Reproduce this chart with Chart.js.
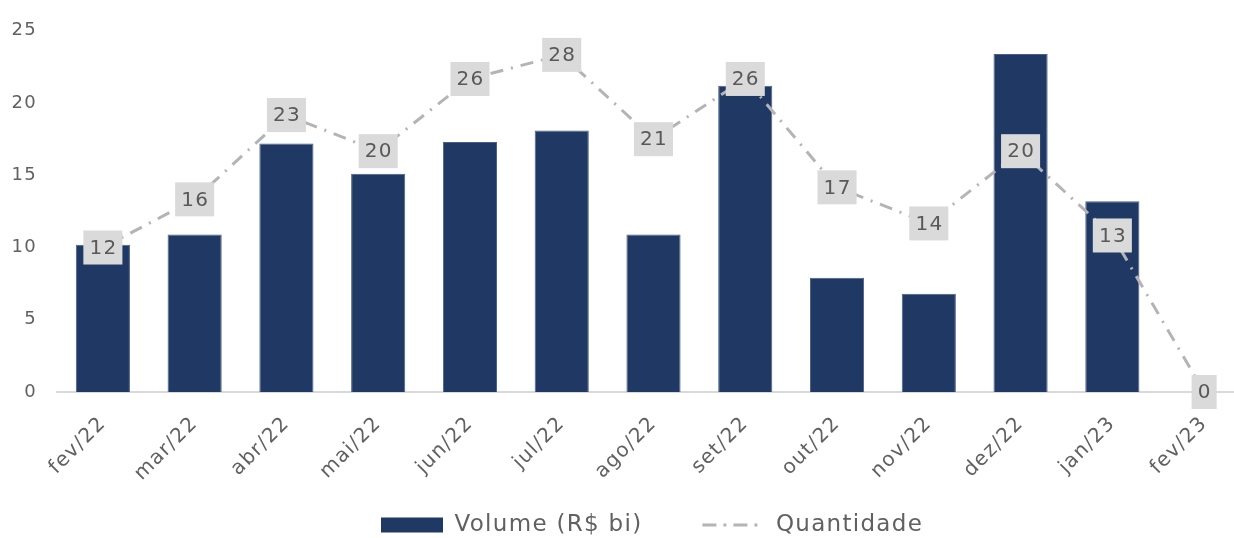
<!DOCTYPE html>
<html>
<head>
<meta charset="utf-8">
<script src="https://cdn.jsdelivr.net/npm/chart.js@4"></script>
<style>
html,body{margin:0;padding:0;background:#fff;overflow:hidden;width:1234px;height:538px;}
#wrap{position:absolute;left:0;top:0;width:1250px;height:538px;}
</style>
</head>
<body>
<div id="wrap"><canvas id="c" width="1250" height="538"></canvas></div>
<script>
const categories = ['fev/22','mar/22','abr/22','mai/22','jun/22','jul/22','ago/22','set/22','out/22','nov/22','dez/22','jan/23','fev/23'];
const volume = [10.2, 10.9, 17.2, 15.1, 17.3, 18.1, 10.9, 21.2, 7.9, 6.8, 23.4, 13.2, 0];
const quantidade = [12, 16, 23, 20, 26, 28, 21, 26, 17, 14, 20, 13, 0];
const yTicks = [0, 5, 10, 15, 20, 25];

const FONT = "'DejaVu Sans', sans-serif";
const TXT = '#616161';
const SPACING = '1.3px';
const LEG_GAP = 60;

const canvas = document.getElementById('c');

const spacingPlugin = {
  id: 'spacing',
  beforeUpdate(chart) { if ('letterSpacing' in chart.ctx) chart.ctx.letterSpacing = SPACING; },
  beforeDraw(chart) { if ('letterSpacing' in chart.ctx) chart.ctx.letterSpacing = SPACING; },
  afterLayout(chart) {
    const lg = chart.legend;
    if (!lg) return;
    try {
      lg.options.labels.padding = LEG_GAP;
      lg.top = 525 - 11.5 - LEG_GAP;
      lg.bottom = chart.height;
      const lw = lg.lineWidths ? lg.lineWidths[0] : 0;
      const right = lg.right;
      lg.left = 2 * 381 - LEG_GAP - right + lw;
    } catch (e) {}
  }
};

const labelPlugin = {
  id: 'boxLabels',
  afterDatasetsDraw(chart) {
    const ctx = chart.ctx;
    const meta = chart.getDatasetMeta(1);
    ctx.save();
    ctx.font = "20px " + FONT;
    ctx.textAlign = 'center';
    ctx.textBaseline = 'middle';
    meta.data.forEach((pt, i) => {
      const t = String(quantidade[i]);
      const w = ctx.measureText(t).width + 11;
      const h = 34;
      ctx.fillStyle = '#dadadb';
      ctx.fillRect(pt.x - w / 2, pt.y - h / 2, w, h);
      ctx.fillStyle = '#595959';
      ctx.fillText(t, pt.x + 0.6, pt.y + 1);
    });
    ctx.restore();
  }
};

new Chart(canvas, {
  data: {
    labels: categories,
    datasets: [
      {
        type: 'bar',
        label: 'Volume (R$ bi)',
        data: volume,
        backgroundColor: '#203864',
        borderColor: '#4a5f86',
        borderWidth: 1,
        barPercentage: 0.59,
        categoryPercentage: 1,
        yAxisID: 'y',
        order: 2
      },
      {
        type: 'line',
        label: 'Quantidade',
        data: quantidade,
        borderColor: '#b4b4b4',
        backgroundColor: '#b4b4b4',
        borderWidth: 3,
        borderDash: [13, 8, 2, 8],
        pointRadius: 0,
        pointHoverRadius: 0,
        tension: 0,
        yAxisID: 'y2',
        order: 1
      }
    ]
  },
  options: {
    responsive: false,
    animation: false,
    events: [],
    layout: { padding: { left: 0, right: 0, top: 10, bottom: 8 } },
    scales: {
      x: {
        offset: true,
        grid: { display: false, drawTicks: false },
        border: { display: true, color: '#d9d9d9', width: 2 },
        ticks: {
          color: TXT,
          font: { family: FONT, size: 20 },
          maxRotation: 45,
          minRotation: 45,
          padding: 20,
          autoSkip: false
        },
        afterFit(scale) {
          scale.paddingLeft = 0;
          scale.paddingRight = 0;
          scale.height = 95;
        }
      },
      y: {
        min: 0,
        max: 25,
        afterBuildTicks(scale) { scale.ticks = yTicks.map(v => ({ value: v })); },
        grid: { display: false, drawTicks: false },
        border: { display: false },
        ticks: {
          color: TXT,
          font: { family: FONT, size: 18 },
          padding: 20
        },
        afterFit(scale) { scale.width = 57; }
      },
      y2: {
        min: 0,
        max: 30,
        display: false,
        position: 'right'
      }
    },
    plugins: {
      tooltip: { enabled: false },
      legend: {
        position: 'bottom',
        labels: {
          color: TXT,
          font: { family: FONT, size: 23 },
          usePointStyle: true,
          pointStyleWidth: 62,
          boxHeight: 15,
          padding: 10,
          generateLabels(chart) {
            return [
              { text: 'Volume (R$ bi)', fillStyle: '#203864', strokeStyle: '#203864', lineWidth: 0, pointStyle: 'rect', datasetIndex: 0, fontColor: TXT },
              { text: 'Quantidade', fillStyle: '#b4b4b4', strokeStyle: '#b4b4b4', lineWidth: 3, lineDash: [14, 7, 3, 7], pointStyle: 'line', datasetIndex: 1, fontColor: TXT }
            ];
          }
        }
      }
    }
  },
  plugins: [spacingPlugin, labelPlugin]
});
</script>
</body>
</html>
